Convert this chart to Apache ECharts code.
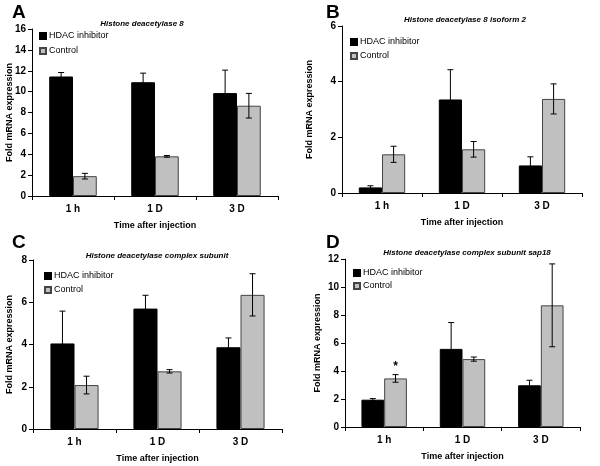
<!DOCTYPE html>
<html>
<head>
<meta charset="utf-8">
<script src="https://cdn.jsdelivr.net/npm/echarts@6/dist/echarts.min.js"></script>
<style>
  html, body { margin: 0; padding: 0; background: #fff; }
  #chart { width: 600px; height: 466px; }
</style>
</head>
<body>
<div id="chart"></div>
<script>
// categories on every panel
const categories = ['1 h', '1 D', '3 D'];
const seriesNames = ['HDAC inhibitor', 'Control'];

// A: Histone deacetylase 8
const hdacA = [11.45, 10.9, 9.86];
const hdacErrA = [0.38, 0.87, 2.2];
const ctrlA = [1.9, 3.8, 8.65];
const ctrlErrA = [0.27, 0.08, 1.18];

// B: Histone deacetylase 8 isoform 2
const hdacB = [0.2, 3.36, 0.99];
const hdacErrB = [0.06, 1.07, 0.31];
const ctrlB = [1.39, 1.57, 3.38];
const ctrlErrB = [0.29, 0.28, 0.54];

// C: Histone deacetylase complex subunit
const hdacC = [4.05, 5.7, 3.87];
const hdacErrC = [1.53, 0.63, 0.44];
const ctrlC = [2.08, 2.73, 6.35];
const ctrlErrC = [0.42, 0.08, 1.0];

// D: Histone deacetylase complex subunit sap18
const hdacD = [1.95, 5.58, 2.98];
const hdacErrD = [0.08, 1.88, 0.36];
const ctrlD = [3.47, 4.85, 8.69];
const ctrlErrD = [0.27, 0.15, 2.96];
const sigD = ['*', '', ''];

const panels = [
  { letter: 'A', title: 'Histone deacetylase 8', max: 16, hdac: hdacA, hdacErr: hdacErrA, ctrl: ctrlA, ctrlErr: ctrlErrA, sig: null,
    grid: { left: 32, top: 29, width: 246, height: 167 }, legend: { left: 39, top: 30, gap: 3 },
    letterPos: [12, 13], titlePos: [142, 24], nameGap: 18 },
  { letter: 'B', title: 'Histone deacetylase 8 isoform 2', max: 6, hdac: hdacB, hdacErr: hdacErrB, ctrl: ctrlB, ctrlErr: ctrlErrB, sig: null,
    grid: { left: 342, top: 26, width: 240, height: 167 }, legend: { left: 350, top: 36, gap: 2 },
    letterPos: [326, 13], titlePos: [465, 20], nameGap: 28 },
  { letter: 'C', title: 'Histone deacetylase complex subunit', max: 8, hdac: hdacC, hdacErr: hdacErrC, ctrl: ctrlC, ctrlErr: ctrlErrC, sig: null,
    grid: { left: 33, top: 260, width: 249, height: 169 }, legend: { left: 44, top: 270, gap: 2 },
    letterPos: [12, 243], titlePos: [157, 256], nameGap: 19 },
  { letter: 'D', title: 'Histone deacetylase complex subunit sap18', max: 12, hdac: hdacD, hdacErr: hdacErrD, ctrl: ctrlD, ctrlErr: ctrlErrD, sig: sigD,
    grid: { left: 345, top: 259, width: 235, height: 168 }, legend: { left: 353, top: 267, gap: 1 },
    letterPos: [326, 243], titlePos: [467, 253], nameGap: 23 }
];

const FONT = 'Liberation Sans, Arial, sans-serif';
const GAP = 0.42;
const black = '#000000';
const gray = '#c0c0c0';

function errRender(side, sig) {
  return function (params, api) {
    const idx = api.value(0);
    const lo = api.value(1);
    const hi = api.value(2);
    const bandW = api.size([1, 0])[0];
    const barW = bandW * (1 - GAP) / 2;
    const base = api.coord([idx, lo]);
    const x = base[0] + side * barW / 2;
    const yLo = base[1];
    const yHi = api.coord([idx, hi])[1];
    const cap = 3;
    const st = { stroke: '#000', lineWidth: 1 };
    const children = [
      { type: 'line', shape: { x1: x, y1: yLo, x2: x, y2: yHi }, style: st },
      { type: 'line', shape: { x1: x - cap, y1: yHi, x2: x + cap, y2: yHi }, style: st },
      { type: 'line', shape: { x1: x - cap, y1: yLo, x2: x + cap, y2: yLo }, style: st }
    ];
    if (sig && sig[params.dataIndex]) {
      children.push({ type: 'text', style: { x: x, y: yHi - 2, text: sig[params.dataIndex], textAlign: 'center', textVerticalAlign: 'bottom', font: 'bold 12px ' + FONT, fill: '#000' } });
    }
    return { type: 'group', children: children };
  };
}

const grids = [], xAxes = [], yAxes = [], series = [], legends = [], graphics = [];

panels.forEach(function (p, i) {
  grids.push(p.grid);
  xAxes.push({
    type: 'category', gridIndex: i, data: categories,
    axisLine: { lineStyle: { color: '#000', width: 1 } },
    axisTick: { show: true, length: 4, interval: 0, lineStyle: { color: '#000' } },
    axisLabel: { color: '#000', fontWeight: 'bold', fontSize: 10, fontFamily: FONT, margin: 8 },
    name: 'Time after injection', nameLocation: 'middle', nameGap: 25,
    nameTextStyle: { color: '#000', fontWeight: 'bold', fontSize: 9, fontFamily: FONT }
  });
  yAxes.push({
    type: 'value', gridIndex: i, min: 0, max: p.max, interval: 2,
    splitLine: { show: false },
    axisLine: { show: true, lineStyle: { color: '#000', width: 1 } },
    axisTick: { show: true, length: 4, lineStyle: { color: '#000' } },
    axisLabel: { color: '#000', fontWeight: 'bold', fontSize: 10, fontFamily: FONT, margin: 6 },
    name: 'Fold mRNA expression', nameLocation: 'middle', nameGap: p.nameGap, nameRotate: 90,
    nameMoveOverlap: false,
    nameTextStyle: { color: '#000', fontWeight: 'bold', fontSize: 9, fontFamily: FONT }
  });
  series.push({
    name: seriesNames[0], type: 'bar', xAxisIndex: i, yAxisIndex: i, data: p.hdac,
    barGap: 0, barCategoryGap: (GAP * 100) + '%',
    itemStyle: { color: black, borderColor: '#000', borderWidth: 1 }
  });
  series.push({
    name: seriesNames[1], type: 'bar', xAxisIndex: i, yAxisIndex: i, data: p.ctrl,
    barGap: 0, barCategoryGap: (GAP * 100) + '%',
    itemStyle: { color: gray, borderColor: '#444', borderWidth: 1 }
  });
  series.push({
    type: 'custom', xAxisIndex: i, yAxisIndex: i, z: 5, silent: true,
    renderItem: errRender(-1, null), encode: { x: 0, y: [1, 2] },
    data: p.hdac.map(function (v, k) { return [k, v - p.hdacErr[k], v + p.hdacErr[k]]; })
  });
  series.push({
    type: 'custom', xAxisIndex: i, yAxisIndex: i, z: 5, silent: true,
    renderItem: errRender(1, p.sig), encode: { x: 0, y: [1, 2] },
    data: p.ctrl.map(function (v, k) { return [k, v - p.ctrlErr[k], v + p.ctrlErr[k]]; })
  });
  legends.push({
    data: seriesNames, orient: 'vertical', left: p.legend.left, top: p.legend.top,
    padding: 0, itemGap: p.legend.gap, itemWidth: 6, itemHeight: 6, icon: 'rect',
    textStyle: { color: '#000', fontSize: 9, fontFamily: FONT, lineHeight: 12, padding: [0, 0, 0, -2] },
    selectedMode: false
  });
  graphics.push({
    type: 'text', left: p.letterPos[0], top: p.letterPos[1] - 10,
    style: { text: p.letter, font: 'bold 19px ' + FONT, fill: '#000' }
  });
  graphics.push({
    type: 'text', x: p.titlePos[0], y: p.titlePos[1],
    style: { text: p.title, textAlign: 'center', textVerticalAlign: 'middle', font: 'italic bold 8px ' + FONT, fill: '#000' }
  });
});

const chart = echarts.init(document.getElementById('chart'), null, { renderer: 'canvas' });
chart.setOption({
  animation: false,
  backgroundColor: '#fff',
  grid: grids,
  xAxis: xAxes,
  yAxis: yAxes,
  legend: legends,
  series: series,
  graphic: graphics
});
</script>
</body>
</html>
